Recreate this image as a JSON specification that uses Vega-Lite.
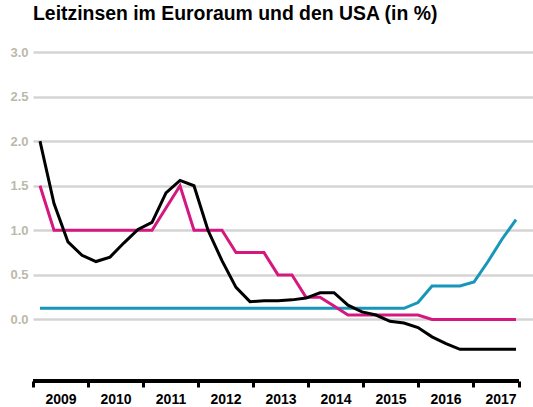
{
  "$schema": "https://vega.github.io/schema/vega-lite/v6.json",
  "autosize": "none",
  "width": 500,
  "height": 329,
  "padding": {"left": 33, "top": 52, "right": 0, "bottom": 26},
  "background": "white",
  "config": {
    "view": {"stroke": null},
    "font": "Liberation Sans"
  },
  "title": {
    "text": "Leitzinsen im Euroraum und den USA (in %)",
    "fontSize": 19.4,
    "fontWeight": "bold",
    "color": "#000000",
    "anchor": "start",
    "frame": "group",
    "offset": 22
  },
  "data": {
    "values": [
      {"t": 2009.127, "usa": 0.125, "ezb": 1.5, "euribor": 2.0},
      {"t": 2009.382, "usa": 0.125, "ezb": 1.0, "euribor": 1.3},
      {"t": 2009.636, "usa": 0.125, "ezb": 1.0, "euribor": 0.87},
      {"t": 2009.891, "usa": 0.125, "ezb": 1.0, "euribor": 0.72},
      {"t": 2010.145, "usa": 0.125, "ezb": 1.0, "euribor": 0.65},
      {"t": 2010.4, "usa": 0.125, "ezb": 1.0, "euribor": 0.7},
      {"t": 2010.655, "usa": 0.125, "ezb": 1.0, "euribor": 0.86},
      {"t": 2010.909, "usa": 0.125, "ezb": 1.0, "euribor": 1.01},
      {"t": 2011.164, "usa": 0.125, "ezb": 1.0, "euribor": 1.09},
      {"t": 2011.418, "usa": 0.125, "ezb": 1.25, "euribor": 1.42},
      {"t": 2011.673, "usa": 0.125, "ezb": 1.5, "euribor": 1.56},
      {"t": 2011.927, "usa": 0.125, "ezb": 1.0, "euribor": 1.5},
      {"t": 2012.182, "usa": 0.125, "ezb": 1.0, "euribor": 1.0},
      {"t": 2012.436, "usa": 0.125, "ezb": 1.0, "euribor": 0.66},
      {"t": 2012.691, "usa": 0.125, "ezb": 0.75, "euribor": 0.36},
      {"t": 2012.945, "usa": 0.125, "ezb": 0.75, "euribor": 0.2},
      {"t": 2013.2, "usa": 0.125, "ezb": 0.75, "euribor": 0.21},
      {"t": 2013.455, "usa": 0.125, "ezb": 0.5, "euribor": 0.21},
      {"t": 2013.709, "usa": 0.125, "ezb": 0.5, "euribor": 0.22},
      {"t": 2013.964, "usa": 0.125, "ezb": 0.25, "euribor": 0.24},
      {"t": 2014.218, "usa": 0.125, "ezb": 0.25, "euribor": 0.3},
      {"t": 2014.473, "usa": 0.125, "ezb": 0.15, "euribor": 0.3},
      {"t": 2014.727, "usa": 0.125, "ezb": 0.05, "euribor": 0.16},
      {"t": 2014.982, "usa": 0.125, "ezb": 0.05, "euribor": 0.085},
      {"t": 2015.236, "usa": 0.125, "ezb": 0.05, "euribor": 0.05},
      {"t": 2015.491, "usa": 0.125, "ezb": 0.05, "euribor": -0.02},
      {"t": 2015.745, "usa": 0.125, "ezb": 0.05, "euribor": -0.04},
      {"t": 2016.0, "usa": 0.19, "ezb": 0.05, "euribor": -0.09},
      {"t": 2016.255, "usa": 0.375, "ezb": 0.0, "euribor": -0.195},
      {"t": 2016.509, "usa": 0.375, "ezb": 0.0, "euribor": -0.27},
      {"t": 2016.764, "usa": 0.375, "ezb": 0.0, "euribor": -0.335},
      {"t": 2017.018, "usa": 0.42, "ezb": 0.0, "euribor": -0.335},
      {"t": 2017.273, "usa": 0.65, "ezb": 0.0, "euribor": -0.335},
      {"t": 2017.527, "usa": 0.9, "ezb": 0.0, "euribor": -0.335},
      {"t": 2017.782, "usa": 1.12, "ezb": 0.0, "euribor": -0.335}
    ]
  },
  "layer": [
    {
      "transform": [
        {"fold": ["usa", "ezb", "euribor"], "as": ["series", "value"]}
      ],
      "mark": {"type": "line", "strokeWidth": 3, "strokeJoin": "miter", "interpolate": "linear"},
      "encoding": {
        "x": {
          "field": "t",
          "type": "quantitative",
          "scale": {"domain": [2009, 2018.091], "nice": false, "zero": false},
          "axis": {
            "title": null,
            "values": [2009, 2010, 2011, 2012, 2013, 2014, 2015, 2016, 2017, 2017.836],
            "labelExpr": "datum.value > 2017.5 ? '' : format(datum.value, 'd')",
            "domain": false,
            "grid": false,
            "ticks": true,
            "tickColor": "#000000",
            "tickWidth": 3,
            "tickSize": 6,
            "labelOffset": 27.5,
            "labelPadding": 5,
            "labelFontSize": 14,
            "labelFontWeight": "bold",
            "labelColor": "#000000",
            "labelFlush": false,
            "labelOverlap": false
          }
        },
        "y": {
          "field": "value",
          "type": "quantitative",
          "scale": {"domain": [-0.69, 3.0], "nice": false, "zero": false},
          "axis": {
            "title": null,
            "values": [0, 0.5, 1, 1.5, 2, 2.5, 3],
            "format": ".1f",
            "domain": false,
            "ticks": false,
            "labelPadding": 5,
            "labelFontSize": 13,
            "labelFontWeight": "bold",
            "labelColor": "#bbb9ab",
            "gridColor": "#d4d4d4",
            "gridWidth": 2.5
          }
        },
        "color": {
          "field": "series",
          "type": "nominal",
          "scale": {
            "domain": ["usa", "ezb", "euribor"],
            "range": ["#1696b9", "#d4187f", "#000000"]
          },
          "legend": null
        },
        "order": {"field": "t", "type": "quantitative"}
      }
    },
    {
      "mark": {"type": "rule", "strokeWidth": 3, "color": "#000000"},
      "encoding": {
        "x": {"datum": 2009, "type": "quantitative"},
        "x2": {"datum": 2017.836},
        "y": {"datum": -0.69, "type": "quantitative"}
      }
    }
  ]
}
